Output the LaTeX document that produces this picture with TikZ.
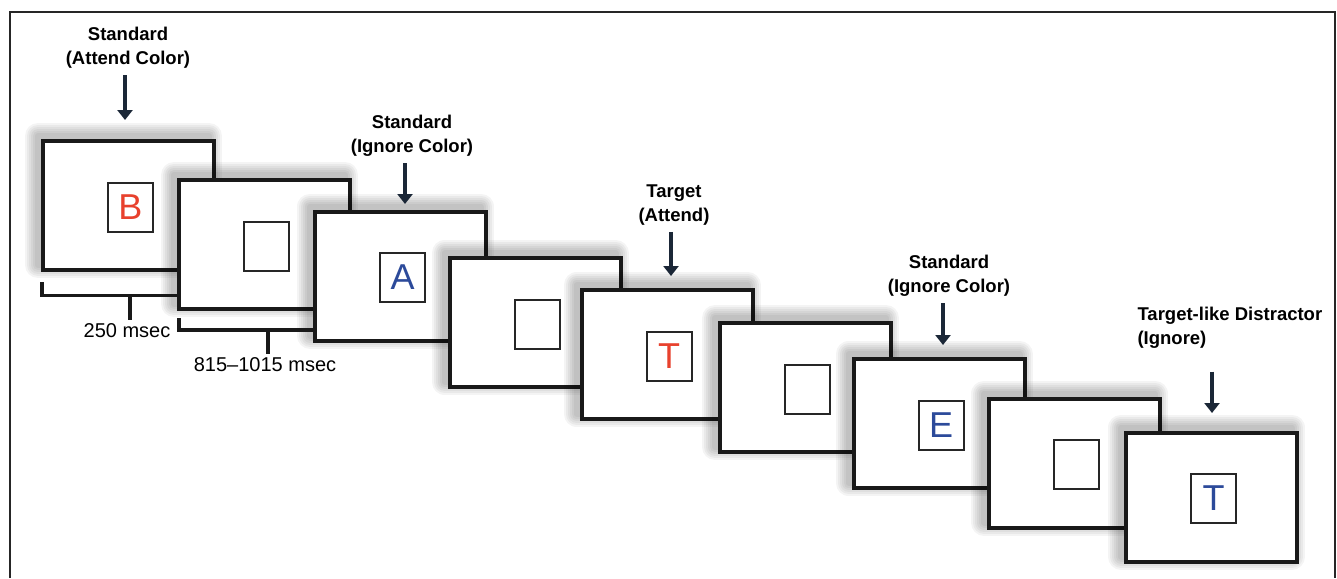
\documentclass[tikz,border=0pt]{standalone}
\usepackage{fontspec}
\setmainfont{Liberation Sans}
\usetikzlibrary{arrows.meta,positioning,calc}

\definecolor{cuered}{HTML}{E8412D}
\definecolor{cueblue}{HTML}{2C4A9A}
\definecolor{arrowdark}{HTML}{1B2737}

\begin{document}
\begin{tikzpicture}[x=1pt,y=-1pt,
  glow/.style={preaction={draw=black,draw opacity=0.045,line width=#1,line join=round,
      transform canvas={shift={(-5pt,5pt)}}}},
  screen/.style={draw=black!90,line width=4pt,fill=white,inner sep=0pt,
    minimum width=171pt,minimum height=129pt,
    glow=26pt,glow=22pt,glow=18pt,glow=14pt,glow=10pt,glow=6pt},
  cue/.style={draw=black!85,line width=2pt,fill=white,inner sep=0pt,
    minimum width=45pt,minimum height=49pt,font=\fontsize{36}{36}\selectfont},
  event/.style={align=center,font=\fontsize{18.5}{24}\selectfont\bfseries},
  timing/.style={font=\fontsize{20}{24}\selectfont},
  cuearrow/.style={draw=arrowdark,line width=4.5pt,shorten <=3pt,
    -{Triangle[length=10pt,width=15pt]}},
  bracket/.style={draw=black!90,line width=3.5pt}]
\useasboundingbox (0,0) rectangle (1337,578);
\draw[line width=2.5pt,black!85] (10,578) -- (10,12) -- (1335,12) -- (1335,578);

% screens, back to front
\node[screen] (s1) at (128.5,205.5) {};
\node[cue,text=cuered] (c1) at ($(s1)+(2,1.5)$) {B};
\node[screen] (s2) at (264.5,244.5) {};
\node[cue] (c2) at ($(s2)+(2,1.5)$) {};
\node[screen] (s3) at (400.5,276) {};
\node[cue,text=cueblue] (c3) at ($(s3)+(2,1.5)$) {A};
\node[screen] (s4) at (535,322.5) {};
\node[cue] (c4) at ($(s4)+(2,1.5)$) {};
\node[screen] (s5) at (667,354.5) {};
\node[cue,text=cuered] (c5) at ($(s5)+(2,1.5)$) {T};
\node[screen] (s6) at (805.5,387.5) {};
\node[cue] (c6) at ($(s6)+(2,1.5)$) {};
\node[screen] (s7) at (939,423.5) {};
\node[cue,text=cueblue] (c7) at ($(s7)+(2,1.5)$) {E};
\node[screen] (s8) at (1074.5,463) {};
\node[cue] (c8) at ($(s8)+(2,1.5)$) {};
\node[screen] (s9) at (1211.5,497) {};
\node[cue,text=cueblue] (c9) at ($(s9)+(2,1.5)$) {T};

% timing brackets
\node[timing] (t1) at (127,331) {250 msec};
\node[timing] (t2) at (265,365) {815--1015 msec};
\coordinate (b1) at (42,282);
\coordinate (b1e) at (s2.west |- 0,295.5);
\coordinate (k1) at (130,295.5);
\draw[bracket] (b1) |- (b1e);
\draw[bracket] (k1) -- (k1 |- t1.north);
\coordinate (b2) at (179,318);
\coordinate (b2e) at (s3.west |- 0,330);
\coordinate (k2) at (268,330);
\draw[bracket] (b2) |- (b2e);
\draw[bracket] (k2) -- (k2 |- t2.north);

% event labels
\node[event] (e1) at (128,48) {Standard\\(Attend Color)};
\node[event] (e2) at (412,136) {Standard\\(Ignore Color)};
\node[event] (e3) at (674,205) {Target\\(Attend)};
\node[event] (e4) at (949,276) {Standard\\(Ignore Color)};
\node[event,align=left,anchor=west] (e5) at (1134,327.5) {Target-like Distractor\\(Ignore)};
\coordinate (tip1) at (125,120);
\coordinate (tip2) at (405,204);
\coordinate (tip3) at (671,276);
\coordinate (tip4) at (943,345);
\coordinate (tip5) at (1212,413);
\draw[cuearrow] (tip1 |- e1.south) -- (tip1);
\draw[cuearrow] (tip2 |- e2.south) -- (tip2);
\draw[cuearrow] (tip3 |- e3.south) -- (tip3);
\draw[cuearrow] (tip4 |- e4.south) -- (tip4);
\draw[cuearrow,shorten <=20pt] (tip5 |- e5.south) -- (tip5);
\end{tikzpicture}
\end{document}
